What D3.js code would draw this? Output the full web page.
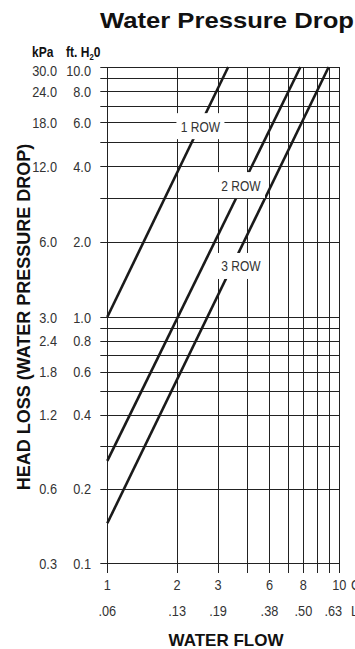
<!DOCTYPE html>
<html>
<head>
<meta charset="utf-8">
<script src="https://cdn.jsdelivr.net/npm/d3@7"></script>
<style>
  body { margin: 0; background: #fff; }
  svg { display: block; }
  text { font-family: "Liberation Sans", Arial, sans-serif; }
  .bold { font-weight: bold; }
</style>
</head>
<body>
<svg id="chart"></svg>
<script>
// chart size
const width = 355;
const height = 649;

// data
const flowGrid = [1, 2, 3, 4, 5, 6, 7, 8, 9, 10];                 // GPM grid lines
const headGrid = [0.1, 0.2, 0.3, 0.4, 0.5, 0.6, 0.7, 0.8, 0.9,
                  1, 2, 3, 4, 5, 6, 7, 8, 9, 10];                   // ft. H2O grid lines
const headTicks = [10, 8, 6, 4, 2, 1, 0.8, 0.6, 0.4, 0.2, 0.1];
const ftLabels = ["10.0", "8.0", "6.0", "4.0", "2.0", "1.0", "0.8", "0.6", "0.4", "0.2", "0.1"];
const kpaLabels = ["30.0", "24.0", "18.0", "12.0", "6.0", "3.0", "2.4", "1.8", "1.2", "0.6", "0.3"];
const flowTicks = [1, 2, 3, 5, 7, 10];   // where the labels sit in the picture
const gpmLabels = ["1", "2", "3", "6", "8", "10"];
const lpsLabels = [".06", ".13", ".19", ".38", ".50", ".63"];

const rowNames = ["1 ROW", "2 ROW", "3 ROW"];
// [gpm, ft. H2O]
const row1 = [[1, 1.0], [3.32, 10]];
const row2 = [[1, 0.26], [6.8, 10]];
const row3 = [[1, 0.145], [9.0, 10]];
const rows = [row1, row2, row3];

// label anchors (in chart units)
const labelAt = [[2.52, 5.8], [3.77, 3.37], [3.77, 1.6]];

const svg = d3.select("#chart")
    .attr("width", width)
    .attr("height", height);

const x = d3.scaleLog().domain([1, 10]).range([107.3, 339.3]);
const y = d3.scaleLog().domain([0.1, 1, 10]).range([563, 317, 67]);

const ink = "#222";
const squeeze = 0.85;   // the reference uses a condensed face

// condensed text: scale the glyphs horizontally around the anchor
function narrow(parent, px, py, txt, size, anchor) {
    return parent.append("text")
        .attr("transform", `translate(${px},${py}) scale(${squeeze},1)`)
        .attr("text-anchor", anchor || "start")
        .attr("font-size", size)
        .attr("fill", "#333")
        .text(txt);
}

// Title
svg.append("text")
    .attr("class", "bold")
    .attr("x", 100)
    .attr("y", 28)
    .attr("font-size", 22)
    .attr("textLength", 254)
    .attr("lengthAdjust", "spacingAndGlyphs")
    .attr("fill", "#111")
    .text("Water Pressure Drop");

// horizontal grid (extends a little left of the axis)
svg.selectAll(".hgrid")
    .data(headGrid)
    .enter()
    .append("line")
    .attr("class", "hgrid")
    .attr("x1", x(1) - 7)
    .attr("x2", x(10))
    .attr("y1", d => Math.round(y(d)) + 0.5)
    .attr("y2", d => Math.round(y(d)) + 0.5)
    .style("stroke", ink)
    .style("stroke-width", 1);

// vertical grid (extends below the axis)
svg.selectAll(".vgrid")
    .data(flowGrid)
    .enter()
    .append("line")
    .attr("class", "vgrid")
    .attr("x1", d => Math.round(x(d)) + 0.5)
    .attr("x2", d => Math.round(x(d)) + 0.5)
    .attr("y1", y(10))
    .attr("y2", y(0.1) + 10)
    .style("stroke", ink)
    .style("stroke-width", 1);

// pressure drop lines
const line = d3.line()
    .x(d => x(d[0]))
    .y(d => y(d[1]));

svg.selectAll(".row-line")
    .data(rows)
    .enter()
    .append("path")
    .attr("class", "row-line")
    .attr("d", line)
    .style("fill", "none")
    .style("stroke", "#1a1a1a")
    .style("stroke-width", 2.6);

// row labels on white boxes
rowNames.forEach((name, i) => {
    const g = svg.append("g")
        .attr("transform", `translate(${x(labelAt[i][0])},${y(labelAt[i][1])})`);
    g.append("rect")
        .attr("x", -24)
        .attr("y", -13)
        .attr("width", 48)
        .attr("height", 26)
        .style("fill", "#fff");
    narrow(g, 0, 5.5, name, 15, "middle").attr("transform", `translate(0,5.5) scale(0.8,1)`);
});

// y labels: kPa and ft. H2O columns
headTicks.forEach((d, i) => {
    const py = y(d) + 5.5 + (i === 0 ? 3 : 0);
    narrow(svg, 57, py, kpaLabels[i], 15, "end");
    narrow(svg, 91, py, ftLabels[i], 15, "end");
});

// column headers
svg.append("text")
    .attr("class", "bold")
    .attr("transform", `translate(32,57) scale(0.86,1)`)
    .attr("font-size", 14)
    .attr("fill", "#111")
    .text("kPa");

const head = svg.append("text")
    .attr("class", "bold")
    .attr("transform", `translate(66,57) scale(0.86,1)`)
    .attr("font-size", 14)
    .attr("fill", "#111");
head.append("tspan").text("ft. H");
head.append("tspan").attr("font-size", 9).attr("dy", 2.5).text("2");
head.append("tspan").attr("dy", -2.5).text("0");

// x labels: GPM and L/s rows
flowTicks.forEach((d, i) => {
    narrow(svg, x(d), 590, gpmLabels[i], 15, "middle");
    narrow(svg, x(d) + (i === flowTicks.length - 1 ? -6 : 0), 616, lpsLabels[i], 15, "middle");
});

narrow(svg, 351, 590, "GPM", 15);
narrow(svg, 351, 616, "L/s", 15);

// axis titles
svg.append("text")
    .attr("class", "bold")
    .attr("x", 226)
    .attr("y", 646)
    .attr("text-anchor", "middle")
    .attr("font-size", 17)
    .attr("fill", "#111")
    .text("WATER FLOW");

svg.append("text")
    .attr("class", "bold")
    .attr("transform", "translate(30,317) rotate(-90)")
    .attr("text-anchor", "middle")
    .attr("font-size", 18)
    .attr("fill", "#111")
    .text("HEAD LOSS (WATER PRESSURE DROP)");
</script>
</body>
</html>
